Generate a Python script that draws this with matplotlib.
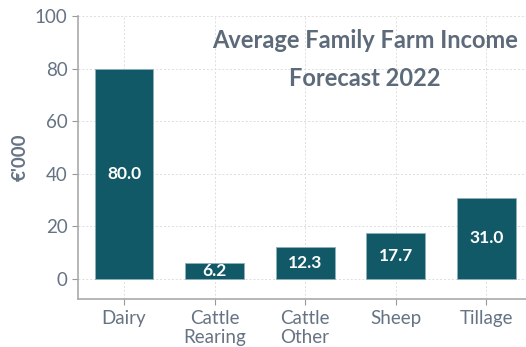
import matplotlib

matplotlib.use("Agg")
import matplotlib.pyplot as plt

# Average family farm income by farm type, 2022 forecast (€'000)
categories = ["Dairy", "Cattle\nRearing", "Cattle\nOther", "Sheep", "Tillage"]
income = [80.0, 6.2, 12.3, 17.7, 31.0]

BAR = "#125968"
TEXT = "#667383"
TITLE = "#5d6a79"

plt.rcParams["font.family"] = ["Lato", "DejaVu Sans"]

fig = plt.figure(figsize=(5.26, 3.47), dpi=100)
ax = fig.add_axes([0.148, 0.138, 0.852, 0.816])

x = range(len(categories))
ax.bar(x, income, width=0.65, color=BAR, edgecolor="#8fb0b8", linewidth=0.6, zorder=3)
for xi, v in zip(x, income):
    ax.text(xi, v / 2, f"{v:.1f}", ha="center", va="center", color="white",
            fontsize=12.5, fontweight="bold", zorder=4)

ax.set_xlim(-0.51, 4.44)
ax.set_ylim(-7.6, 100)
ax.set_yticks([0, 20, 40, 60, 80, 100])
ax.set_xticks(list(x))
ax.set_xticklabels(categories, linespacing=1.15)
ax.tick_params(axis="both", colors="#999999", labelcolor=TEXT, labelsize=13.5, length=4)
ax.grid(True, color="#dddddd", linestyle=(0, (2, 2)), linewidth=0.7, zorder=0)

for side in ("top", "right"):
    ax.spines[side].set_visible(False)
for side in ("left", "bottom"):
    ax.spines[side].set_color("#aaaaaa")
    ax.spines[side].set_linewidth(1.2)

ax.set_ylabel("€'000", color=TEXT, fontsize=13.5, fontweight="bold", labelpad=4)

fig.text(0.694, 0.883, "Average Family Farm Income", ha="center", va="center",
         color=TITLE, fontsize=17, fontweight="bold")
fig.text(0.694, 0.775, "Forecast 2022", ha="center", va="center",
         color=TITLE, fontsize=17, fontweight="bold")

fig.savefig("out.png", dpi=100)
plt.close(fig)
